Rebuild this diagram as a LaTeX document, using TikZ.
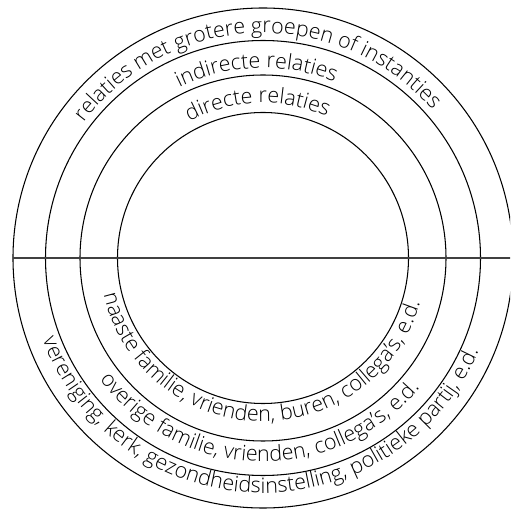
\documentclass[tikz,border=0pt]{standalone}
\usepackage{fontspec}
\usepackage{tikz}
\usetikzlibrary{decorations.text}
\newfontfamily\ringfont{Open Sans Light}
\tikzset{
  ring/.style={black, line width=0.6pt},
  midln/.style={black!75, line width=0.9pt},
  uptxt/.style={decorate, decoration={text along path, text align=center,
      text={|\ringfont\fontsize{12.2}{14}\selectfont|#1}}},
  lowtxt/.style={decorate, decoration={text along path, text align=center,
      text={|\ringfont\fontsize{12.2}{14}\selectfont|#1}}},
}

\begin{document}
\begin{tikzpicture}[scale=0.02]
    \useasboundingbox (-263,-253) rectangle (247,258);
    \clip (-263,-253) rectangle (247,258);
    % rings
    \foreach \r in {145.5,183,217.5,250}
      \draw[ring] (0,0) circle (\r);
    \draw[midln] (-250,0) -- (250,0);
    % labels above the line
    \path[uptxt={relaties met grotere groepen of instanties}]
      (183:225) arc[start angle=183, end angle=1, radius=225];
    \path[uptxt={indirecte relaties}]
      (183:190) arc[start angle=183, end angle=1, radius=190];
    \path[uptxt={directe relaties}]
      (183:155) arc[start angle=183, end angle=1, radius=155];
    % labels below the line
    \path[lowtxt={naaste familie, vrienden, buren, collega’s, e.d.}]
      (177:163.5) arc[start angle=177, end angle=360, radius=163.5];
    \path[lowtxt={overige familie, vrienden, collega’s, e.d.}]
      (177:203.5) arc[start angle=177, end angle=360, radius=203.5];
    \path[lowtxt={vereniging, kerk, gezondheidsinstelling, politieke partij, e.d.}]
      (177:235) arc[start angle=177, end angle=360, radius=235];
\end{tikzpicture}
\end{document}
